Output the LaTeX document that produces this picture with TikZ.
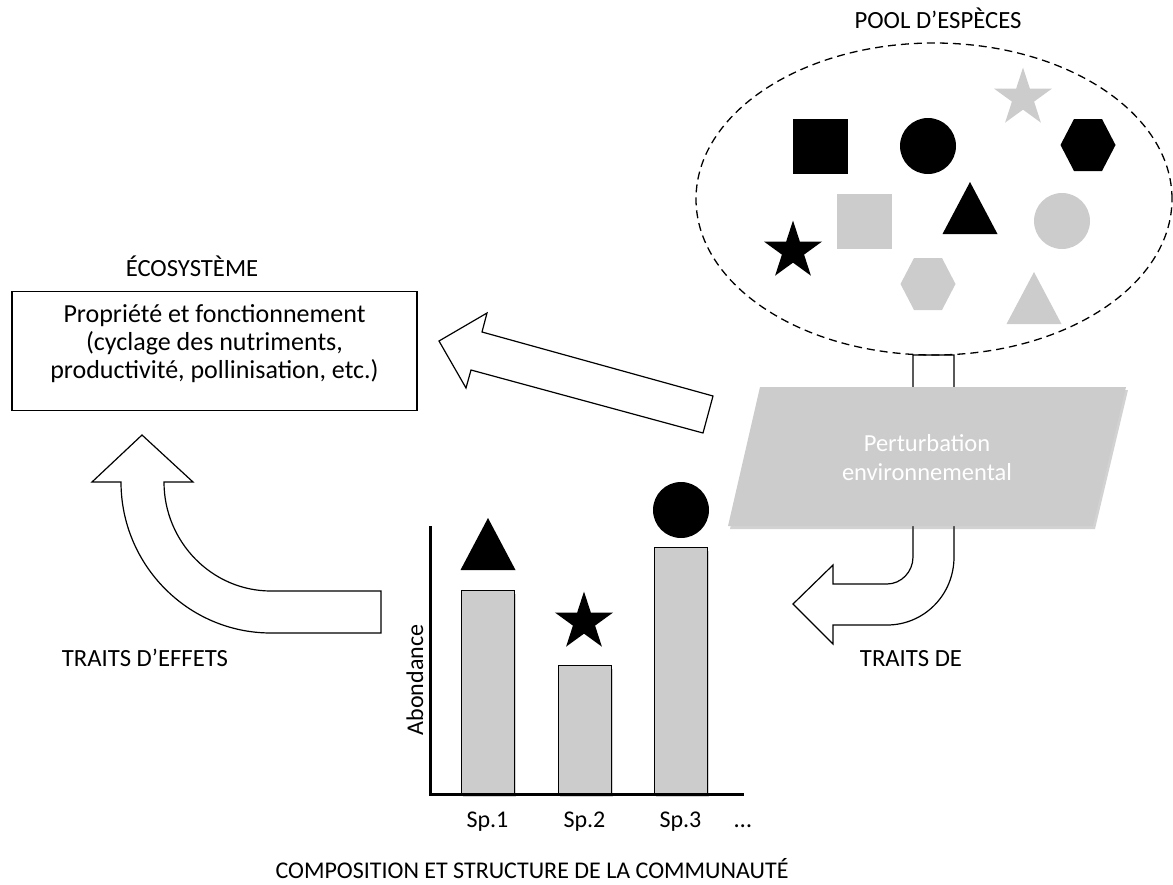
\documentclass[tikz,border=0pt]{standalone}
\usepackage{fontspec}
\setmainfont{Carlito}
\usetikzlibrary{shapes.geometric,shadows}
\definecolor{lightgrey}{HTML}{CCCCCC}

\begin{document}
\begin{tikzpicture}[x=1pt, y=-1pt,
   every node/.style={font=\fontsize{24.7}{28}\selectfont, inner sep=0pt},
   blockarrow/.style={draw, line width=1.2pt, fill=white, line join=miter},
   softshadow/.style={drop shadow={shadow xshift=2pt, shadow yshift=-3pt, opacity=0.25, fill=black!70}},
   bar/.style={draw, line width=1pt, fill=lightgrey, minimum width=53, anchor=south, softshadow},
   sq/.style={rectangle, minimum size=55, fill=#1},
   disc/.style={circle, minimum size=56, fill=#1},
   sstar/.style={star, star points=5, star point ratio=2.618, minimum size=61, fill=#1},
   hexa/.pic={\fill[#1] (-27.5,0) -- (-14,-26) -- (14,-26) -- (27.5,0) -- (14,26) -- (-14,26) -- cycle;},
   trigon/.pic={\fill[#1] (-27.5,26) -- (0,-26) -- (27.5,26) -- cycle;}]
   \useasboundingbox (0,0) rectangle (1173,884);

   % arrow out of the pool, behind the disturbance
   \draw[blockarrow] (913,355) -- (913,557) .. controls (913,572) and (901,584) .. (887,584)
      -- (833,584) -- (833,565) -- (793,604) -- (833,644) -- (833,625) -- (887,625)
      .. controls (924,625) and (954,595) .. (954,557) -- (954,355) -- cycle;

   % species pool
   \node[ellipse, draw, line width=1.3pt, dash pattern=on 8pt off 5pt,
         minimum width=476, minimum height=312] (pool) at (934,199) {};
   \node[anchor=base] (poolname) at (938,28) {POOL D’ESPÈCES};
   \node[sq=black] (bsq) at (820,146) {};
   \node[disc=black] (bdisc) at (928,146) {};
   \node[sstar=lightgrey] (gstar) at (1023,98) {};
   \pic (bhex) at (1088,145) {hexa=black};
   \node[sq=lightgrey] (gsq) at (864,221) {};
   \pic (btri) at (970,208) {trigon=black};
   \node[disc=lightgrey] (gdisc) at (1062,221) {};
   \node[sstar=black] (bstar) at (793,251) {};
   \pic (ghex) at (928,284) {hexa=lightgrey};
   \pic (gtri) at (1034,298) {trigon=lightgrey};

   % environmental filter
   \fill[lightgrey, softshadow] (760,387) -- (1126,387) -- (1093,526) -- (728,526) -- cycle;
   \node[white, align=center, font=\fontsize{24.5}{29}\selectfont] (filter) at (927,458) {Perturbation\\environnemental};

   % ecosystem
   \node[anchor=base] (econame) at (192,276) {ÉCOSYSTÈME};
   \node[draw, line width=1.2pt, minimum width=405, minimum height=119] (eco) at (214.5,351) {};
   \node[align=center, font=\fontsize{26}{28}\selectfont] (ecotext) at ([yshift=7pt]eco.center) {Propriété et fonctionnement\\(cyclage des nutriments,\\productivité, pollinisation, etc.)};

   \draw[blockarrow] (439,341) -- (487,313) -- (482,332) -- (713,396) -- (703,433)
      -- (471,370) -- (466,388) -- cycle;
   \draw[blockarrow] (142,435) -- (193,482) -- (164,482) .. controls (164,542) and (212,591) .. (271,591)
      -- (381,591) -- (381,633) -- (271,633) .. controls (188,633) and (121,565) .. (121,482)
      -- (92,482) -- cycle;

   \node[anchor=base] (effect) at (145,666) {TRAITS D’EFFETS};
   \node[anchor=base] (response) at (911,666) {TRAITS DE};

   % community
   \node[bar, minimum height=203] (bar1) at (487.5,794) {};
   \node[bar, minimum height=128] (bar2) at (584.5,794) {};
   \node[bar, minimum height=246] (bar3) at (680.5,794) {};
   \draw[line width=3pt] (430,526) -- (430,794) -- (744,794);
   \pic (ctri) at (488,544) {trigon=black};
   \node[sstar=black] (cstar) at (584,622) {};
   \node[disc=black] (cdisc) at (681,510) {};
   \node[rotate=90, font=\fontsize{24}{28}\selectfont] (ylabel) at (415,680) {Abondance};
   \node[anchor=base, font=\fontsize{24}{28}\selectfont] (sp1) at (487.5,827) {Sp.1};
   \node[anchor=base, font=\fontsize{24}{28}\selectfont] (sp2) at (584.5,827) {Sp.2};
   \node[anchor=base, font=\fontsize{24}{28}\selectfont] (sp3) at (680.5,827) {Sp.3};
   \node[anchor=base] (more) at (743,827) {…};
   \node[anchor=base, font=\fontsize{24}{28}\selectfont] (commname) at (532,878) {COMPOSITION ET STRUCTURE DE LA COMMUNAUTÉ};
  \end{tikzpicture}
\end{document}
